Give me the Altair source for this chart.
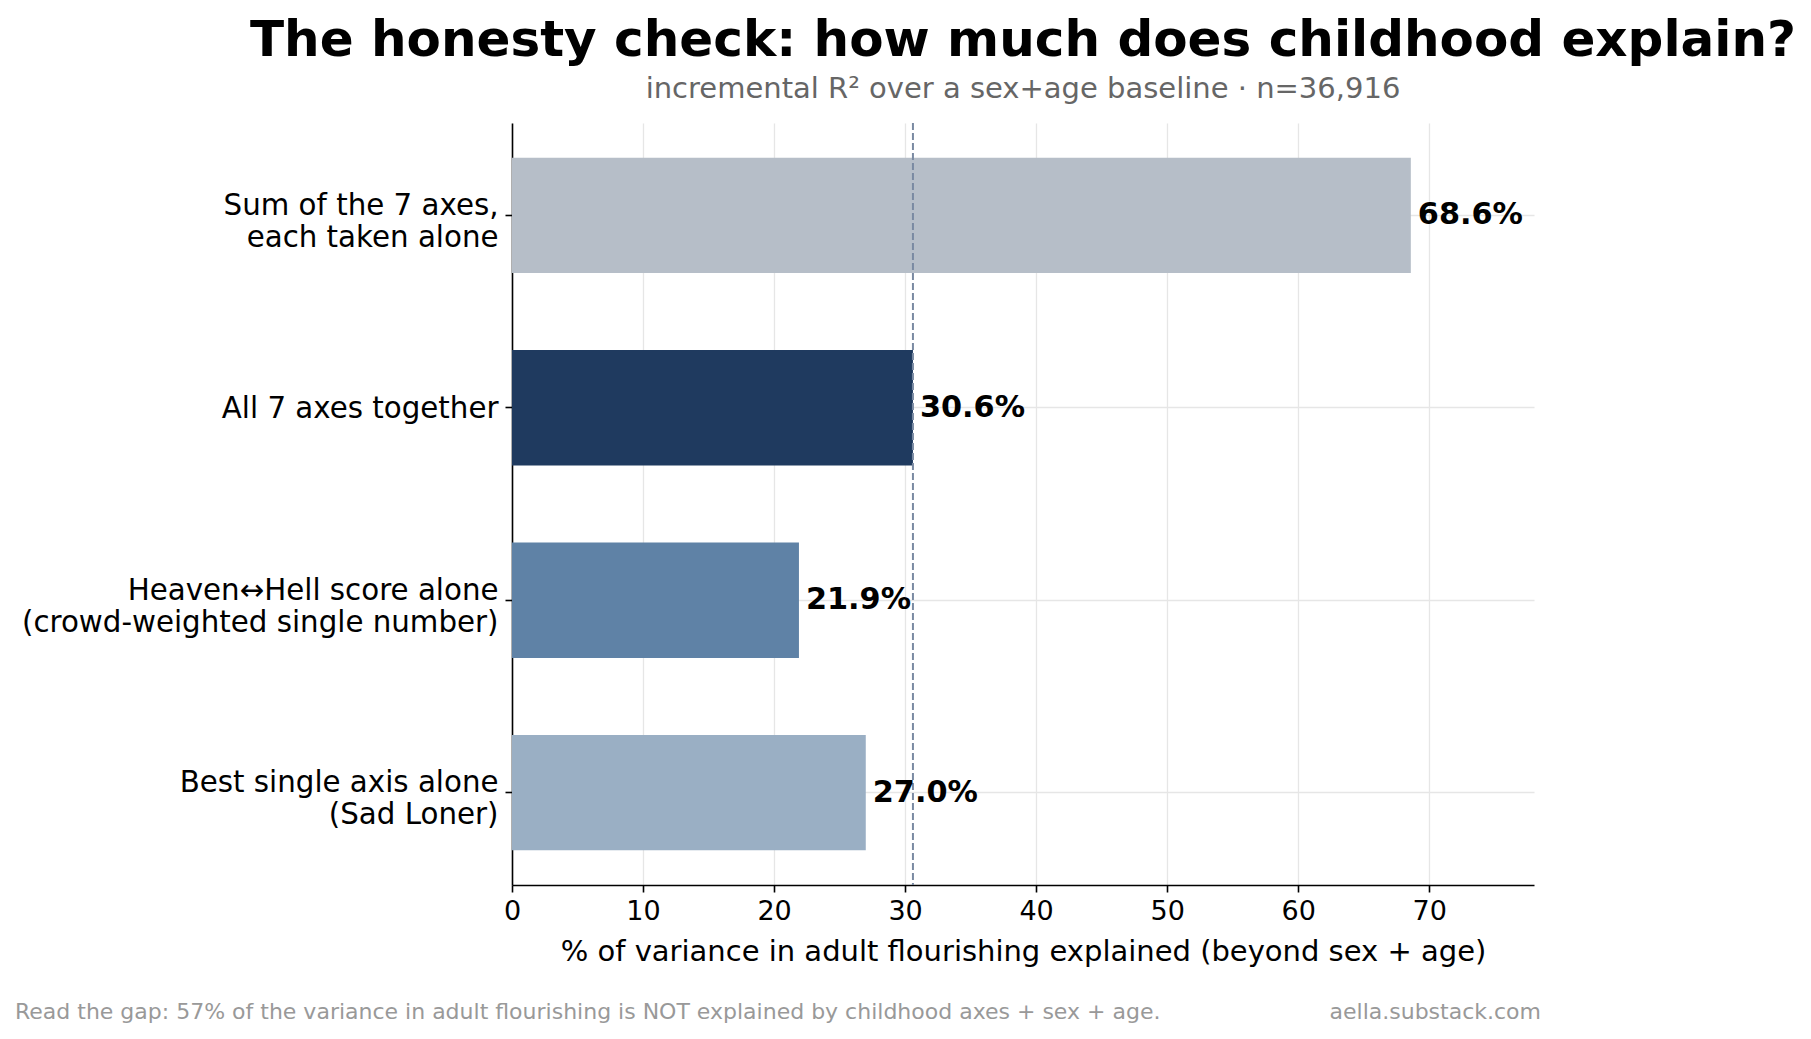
import altair as alt
import pandas as pd

# ---- data ----
categories = [
    "Sum of the 7 axes,\neach taken alone",
    "All 7 axes together",
    "Heaven↔Hell score alone\n(crowd-weighted single number)",
    "Best single axis alone\n(Sad Loner)",
]
values = [68.6, 30.6, 21.9, 27.0]
value_labels = ["68.6%", "30.6%", "21.9%", "27.0%"]
bar_colors = ["#b6bec8", "#1f3a5f", "#5f82a6", "#9aafc4"]
x_ticks = [0, 10, 20, 30, 40, 50, 60, 70]
reference_value = [30.6]

title_text = ["The honesty check: how much does childhood explain?"]
subtitle_text = ["incremental R² over a sex+age baseline · n=36,916"]
footer_left = ["Read the gap: 57% of the variance in adult flourishing is NOT explained by childhood axes + sex + age."]
footer_right = ["aella.substack.com"]
x_title = "% of variance in adult flourishing explained (beyond sex + age)"

FONT = "DejaVu Sans"
W, H = 1022, 762

df = pd.DataFrame({"category": categories, "value": values,
                   "label": value_labels, "color": bar_colors})

x_enc = alt.X(
    "value:Q",
    scale=alt.Scale(domain=[0, 78], nice=False, zero=True),
    axis=alt.Axis(
        values=x_ticks, title=x_title, format="d", labelFlush=False,
        labelFontSize=27, labelFont=FONT, labelColor="black", labelPadding=6,
        tickSize=7, tickWidth=1.6, tickColor="black",
        domainColor="black", domainWidth=1.6,
        grid=True, gridColor="#e6e6e6", gridWidth=1.3,
        titleFont=FONT, titleFontSize=29, titleFontWeight="normal", titleColor="black",
        titleBaseline="alphabetic", titleY=75, titleX=W / 2, titleAlign="center",
    ),
)
y_enc = alt.Y(
    "category:N",
    sort=categories,
    scale=alt.Scale(paddingInner=0.4, paddingOuter=0.18),
    axis=alt.Axis(
        title=None, labelExpr="split(datum.label, '\\n')",
        labelFontSize=29.3, labelFont=FONT, labelColor="black", labelPadding=7,
        labelLimit=1000, labelLineHeight=32, labelAlign="right", labelBaseline="middle",
        labelOffset={"condition": {"test": "indexof(datum.value, '\\n') >= 0", "value": -9.5}, "value": 1},
        tickSize=7, tickWidth=1.6, tickColor="black",
        domainColor="black", domainWidth=1.6,
        grid=True, gridColor="#e6e6e6", gridWidth=1.3, bandPosition=0.5,
    ),
)

base = alt.Chart(df)
bars = base.mark_bar().encode(x=x_enc, y=y_enc, color=alt.Color("color:N", scale=None))
texts = base.mark_text(align="left", baseline="middle", dx=7, fontSize=30.3,
                       fontWeight="bold", font=FONT, color="black").encode(
    x="value:Q", y=alt.Y("category:N", sort=categories), text="label:N")
rule = alt.Chart(pd.DataFrame({"v": reference_value})).mark_rule(
    color="#7a8aa2", strokeWidth=2, strokeDash=[7, 3]).encode(x="v:Q")

title = alt.Chart(pd.DataFrame({"t": title_text})).mark_text(
    font=FONT, fontSize=50, fontWeight="bold", color="black", align="center",
    baseline="alphabetic").encode(text="t:N", x=alt.value(W / 2), y=alt.value(-67))
subtitle = alt.Chart(pd.DataFrame({"t": subtitle_text})).mark_text(
    font=FONT, fontSize=29, color="#666666", align="center",
    baseline="alphabetic").encode(text="t:N", x=alt.value(W / 2), y=alt.value(-25))
foot_l = alt.Chart(pd.DataFrame({"t": footer_left})).mark_text(
    font=FONT, fontSize=22, color="#999999", align="left",
    baseline="alphabetic").encode(text="t:N", x=alt.value(-497), y=alt.value(896))
foot_r = alt.Chart(pd.DataFrame({"t": footer_right})).mark_text(
    font=FONT, fontSize=22, color="#999999", align="right",
    baseline="alphabetic").encode(text="t:N", x=alt.value(1029), y=alt.value(896))

chart = alt.layer(bars, rule, texts, title, subtitle, foot_l, foot_r).properties(
    width=W, height=H,
    padding={"left": 512, "top": 123, "right": 277, "bottom": 154},
    autosize=alt.AutoSizeParams(type="none"),
).configure_view(stroke=None)

chart.save("out.html", embed_options={"renderer": "svg", "actions": False})
